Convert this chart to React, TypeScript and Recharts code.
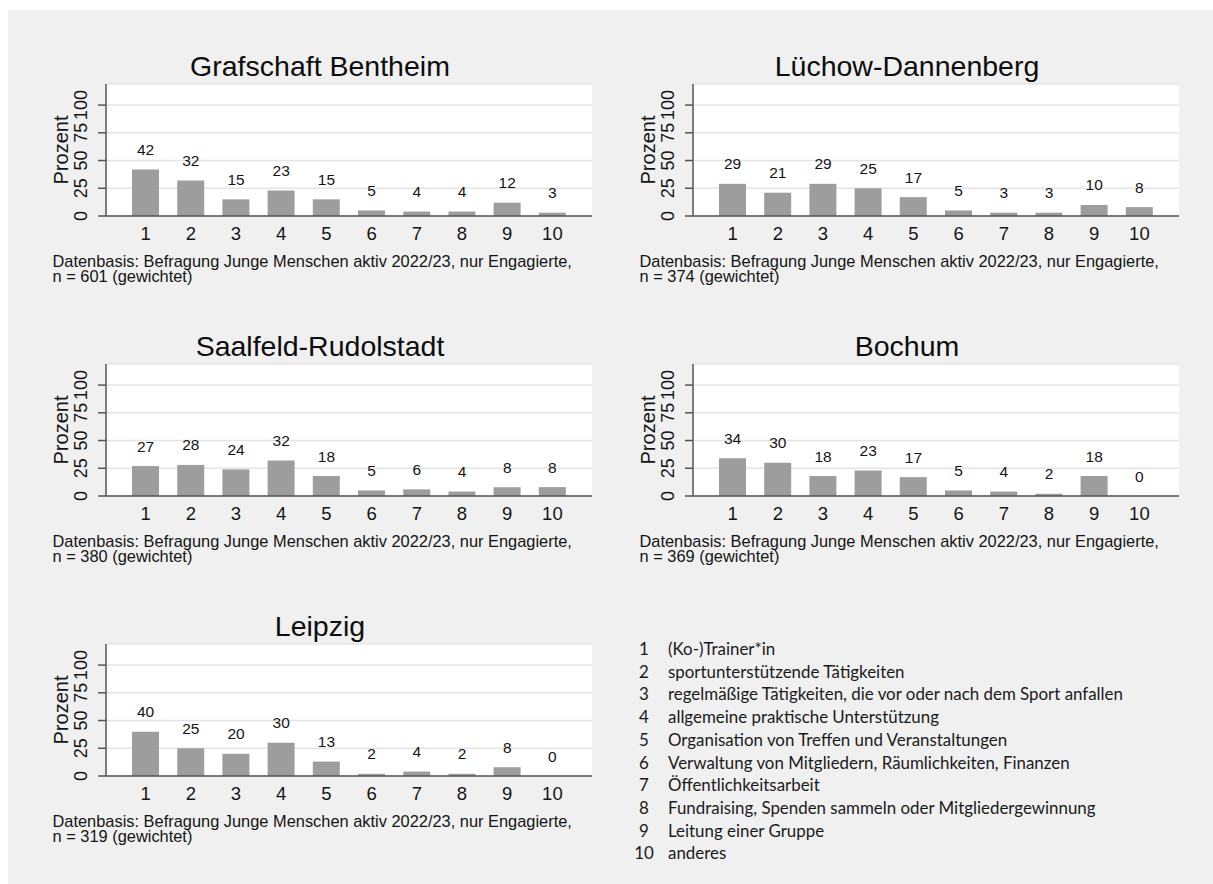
import React from "react";
import { Bar, ComposedChart, CartesianGrid, LabelList, Line, XAxis, YAxis } from "recharts";

const categories = ["1", "2", "3", "4", "5", "6", "7", "8", "9", "10"];

const grafschaftBentheim = [42, 32, 15, 23, 15, 5, 4, 4, 12, 3];
const luechowDannenberg = [29, 21, 29, 25, 17, 5, 3, 3, 10, 8];
const saalfeldRudolstadt = [27, 28, 24, 32, 18, 5, 6, 4, 8, 8];
const bochum = [34, 30, 18, 23, 17, 5, 4, 2, 18, 0];
const leipzig = [40, 25, 20, 30, 13, 2, 4, 2, 8, 0];

const titles = [
  "Grafschaft Bentheim",
  "Lüchow-Dannenberg",
  "Saalfeld-Rudolstadt",
  "Bochum",
  "Leipzig",
];
const sampleSizes = [601, 374, 380, 369, 319];

const yTicks = [0, 25, 50, 75, 100];

const legendLabels = [
  "(Ko-)Trainer*in",
  "sportunterstützende Tätigkeiten",
  "regelmäßige Tätigkeiten, die vor oder nach dem Sport anfallen",
  "allgemeine praktische Unterstützung",
  "Organisation von Treffen und Veranstaltungen",
  "Verwaltung von Mitgliedern, Räumlichkeiten, Finanzen",
  "Öffentlichkeitsarbeit",
  "Fundraising, Spenden sammeln oder Mitgliedergewinnung",
  "Leitung einer Gruppe",
  "anderes",
];

const ARIAL = '"Liberation Sans", Arial, sans-serif';
const AXIS = "#555";
const TEXT = "#141414";

const YTick = (props: any) => {
  const { x, y, payload } = props;
  const tx = x - 11;
  return (
    <text
      x={tx}
      y={y}
      transform={`rotate(-90 ${tx} ${y})`}
      textAnchor="middle"
      fontSize={18}
      fontFamily={ARIAL}
      fill={TEXT}
    >
      {payload.value}
    </text>
  );
};

const XTick = (props: any) => {
  const { x, y, payload } = props;
  return (
    <text x={x} y={y + 24} textAnchor="middle" fontSize={18.5} fontFamily={ARIAL} fill={TEXT}>
      {payload.value}
    </text>
  );
};

const ValueLabel = (props: any) => {
  const { x, y, value } = props;
  return (
    <text x={Number(x)} y={Number(y) - 14.5} textAnchor="middle" fontSize={15.5} fontFamily={ARIAL} fill={TEXT}>
      {value}
    </text>
  );
};

function Panel({ title, values, n, col, row }: { title: string; values: number[]; n: number; col: number; row: number }) {
  const data = categories.map((k, i) => ({ k, v: values[i] }));
  const left = col * 587;
  const top = row * 280;
  return (
    <div style={{ position: "absolute", left, top, width: 600, height: 280 }}>
      <div
        style={{
          position: "absolute",
          left: 320,
          top: 52,
          transform: "translateX(-50%)",
          fontFamily: ARIAL,
          fontSize: 28.5,
          lineHeight: "28px",
          whiteSpace: "nowrap",
          color: "#0d0d0d",
        }}
      >
        {title}
      </div>
      <div
        style={{
          position: "absolute",
          left: 61,
          top: 150,
          transform: "translate(-50%, -50%) rotate(-90deg)",
          fontFamily: ARIAL,
          fontSize: 20,
          lineHeight: "20px",
          whiteSpace: "nowrap",
          color: TEXT,
        }}
      >
        Prozent
      </div>
      <div style={{ position: "absolute", left: 0, top: 0 }}>
        <ComposedChart
          width={600}
          height={250}
          data={data}
          margin={{ top: 84, right: 8, bottom: 0, left: 56 }}
          style={{ overflow: "visible" }}
        >
          <CartesianGrid horizontal vertical={false} stroke="#e4e4e4" strokeWidth={1.5} fill="#ffffff" />
          <XAxis
            dataKey="k"
            height={34}
            interval={0}
            tickLine={false}
            tickSize={0}
            tickMargin={0}
            padding={{ left: 17, right: 17 }}
            axisLine={{ stroke: AXIS, strokeWidth: 1.5 }}
            tick={<XTick />}
          />
          <YAxis
            width={50}
            domain={[0, 119]}
            ticks={yTicks}
            interval={0}
            tickSize={8}
            tickMargin={0}
            axisLine={{ stroke: AXIS, strokeWidth: 1.5 }}
            tickLine={{ stroke: AXIS, strokeWidth: 1.5 }}
            tick={<YTick />}
          />
          <Bar dataKey="v" fill="#9d9d9d" barSize={27} isAnimationActive={false} />
          <Line dataKey="v" stroke="none" dot={false} activeDot={false} isAnimationActive={false} legendType="none">
            <LabelList dataKey="v" content={<ValueLabel />} />
          </Line>
        </ComposedChart>
      </div>
      <div
        style={{
          position: "absolute",
          left: 52.5,
          top: 254,
          fontFamily: ARIAL,
          fontSize: 16.4,
          lineHeight: "15px",
          whiteSpace: "nowrap",
          color: TEXT,
        }}
      >
        Datenbasis: Befragung Junge Menschen aktiv 2022/23, nur Engagierte,
        <br />n = {n} (gewichtet)
      </div>
    </div>
  );
}

export default function App() {
  const series = [grafschaftBentheim, luechowDannenberg, saalfeldRudolstadt, bochum, leipzig];
  return (
    <div style={{ position: "absolute", left: 0, top: 0, width: 1213, height: 884, background: "#fff", overflow: "hidden" }}>
      <div style={{ position: "absolute", left: 8, top: 10, width: 1205, height: 874, background: "#f0f0f0" }} />
      {series.map((values, i) => (
        <Panel key={titles[i]} title={titles[i]} values={values} n={sampleSizes[i]} col={i % 2} row={Math.floor(i / 2)} />
      ))}
      {legendLabels.map((label, i) => (
        <div
          key={label}
          style={{
            position: "absolute",
            left: 0,
            top: 649 + i * 22.7 - 11,
            height: 22,
            width: 1213,
            fontFamily: "Lato, sans-serif",
            fontSize: 16.9,
            lineHeight: "22px",
            color: "#1a1a1a",
            whiteSpace: "nowrap",
          }}
        >
          <span style={{ position: "absolute", left: 644, transform: "translateX(-50%)" }}>{categories[i]}</span>
          <span style={{ position: "absolute", left: 668 }}>{label}</span>
        </div>
      ))}
    </div>
  );
}
